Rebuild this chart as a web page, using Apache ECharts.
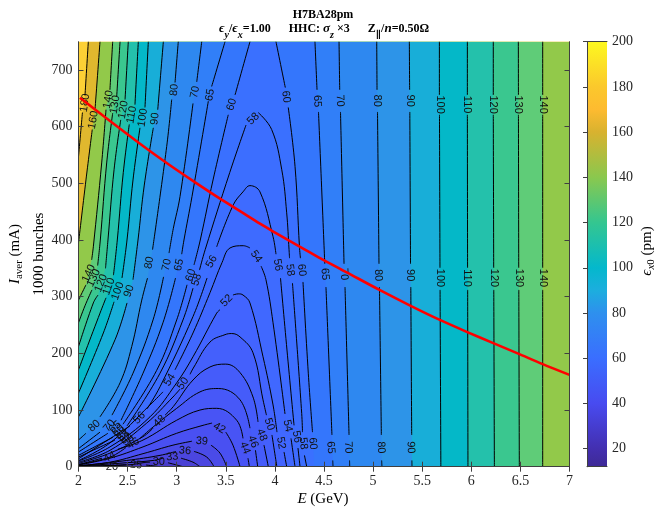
<!DOCTYPE html>
<html><head><meta charset="utf-8">
<style>html,body{margin:0;padding:0;background:#fff}#c{width:660px;height:507px}</style>
<script src="https://cdn.jsdelivr.net/npm/echarts@6/dist/echarts.min.js"></script>
</head><body><div id="c"></div>
<script>
const _ = null;
// contour polylines [E (GeV), I (mA)], _ marks the gap left for a label
const c180=[[2,547],[2.04,625],_,[2.066,655],[2.10,750]];
const c160=[[2,395],[2.076,506],[2.14,595],_,[2.168,630],[2.219,750]];
const c140=[[2,294],[2.076,321],_,[2.134,365],[2.151,388],[2.236,536],[2.28,630],_,[2.32,665],[2.348,750],_,[6.727,750],[6.727,656],_,[6.727,621],[6.727,351],_,[6.727,312],[6.727,0]];
const c130=[[2,254],[2.066,284],[2.137,312],_,[2.195,355],[2.222,400],[2.287,536],[2.348,624],_,[2.389,653],[2.423,750],_,[6.479,750],[6.48,656],_,[6.48,621],[6.483,351],_,[6.484,312],[6.489,0]];
const c120=[[2,212],[2.151,289],[2.199,303],_,[2.275,350],[2.30,400],[2.362,524],[2.43,612],_,[2.474,648],[2.507,750],_,[6.224,750],[6.224,656],_,[6.224,621],[6.228,351],_,[6.229,312],[6.235,0]];
const c110=[[2,171],[2.219,271],[2.28,298],_,[2.356,338],[2.395,400],[2.456,519],[2.517,604],_,[2.575,639],[2.609,750],_,[5.96,750],[5.96,656],_,[5.96,621],[5.962,351],_,[5.963,312],[5.966,0]];
const c100=[[2,130],[2.253,236],[2.362,291],_,[2.443,333],[2.494,400],[2.555,506],[2.626,598],_,[2.677,634],[2.711,750],_,[5.675,750],[5.675,656],_,[5.676,621],[5.681,351],_,[5.682,312],[5.69,0]];
const c90=[[2,88],[2.372,224],[2.494,289],_,[2.555,330],[2.606,400],[2.67,497],[2.762,598],_,[2.807,630],[2.864,750],_,[5.369,750],[5.372,665],_,[5.374,626],[5.381,358],_,[5.384,317],[5.393,56],_,[5.395,11],[5.396,0]];
const c80=[[2,47],[2.076,59],_,[2.219,88],[2.423,148],[2.542,212],[2.644,294],[2.703,333],_,[2.754,383],[2.898,565],[2.949,648],_,[2.983,678],[3.016,750],_,[5.037,750],[5.04,665],_,[5.045,626],[5.06,358],_,[5.065,317],[5.084,56],_,[5.087,11],[5.09,0]];
const c70=[[2,32],[2.219,61],_,[2.341,91],[2.555,165],[2.759,259],[2.866,335],_,[2.922,377],[2.965,420],[3.034,477],[3.166,641],_,[3.204,679],[3.255,750],_,[4.653,750],[4.66,665],_,[4.668,626],[4.704,358],_,[4.714,317],[4.755,56],_,[4.76,11],[4.762,0]];
const c65=[[2,26],[2.30,59],_,[2.433,82],[2.657,165],[2.86,254],[2.988,333],_,[3.051,375],[3.074,400],[3.156,477],[3.322,645],_,[3.356,671],[3.492,750],_,[4.408,750],[4.429,665],_,[4.444,626],[4.508,358],_,[4.52,317],[4.581,56],_,[4.589,11],[4.592,0]];
const c60=[[2,20],[2.351,52],_,[2.453,75],[2.796,170],[3.0,259],[3.105,321],_,[3.176,356],[3.24,400],[3.37,506],[3.525,621],_,[3.594,656],[3.746,750],_,[4.011,750],[4.106,669],_,[4.136,634],[4.205,530],[4.25,388],[4.26,368],_,[4.286,326],[4.34,165],[4.383,61],_,[4.401,0]];
const c58=[[2,17],[2.372,47],_,[2.494,72],[2.83,165],[3.064,259],[3.166,315],_,[3.232,347],[3.29,383],[3.54,519],[3.706,603],_,[3.83,625],[3.967,595],[4.07,524],[4.12,448],[4.144,383],[4.149,368],_,[4.179,324],[4.273,94],[4.281,61],_,[4.301,20],[4.324,0]];
const c56=[[2,14],[2.524,72],_,[2.698,102],[2.83,141],[3.166,265],[3.309,333],_,[3.407,388],[3.576,462],[3.675,485],[3.746,496],[3.848,485],[3.981,406],[4.011,375],_,[4.057,333],[4.123,206],[4.195,73],_,[4.235,33],[4.256,0]];
const c54=[[2,11],[2.321,42],[2.728,109],[2.86,132],_,[2.983,171],[3.166,236],[3.339,307],[3.461,360],[3.543,386],[3.678,390],[3.746,386],_,[3.859,354],[3.909,330],[3.981,254],[4.103,93],_,[4.164,50],[4.205,0]];
const c52=[[2,10],[2.321,35],[2.728,88],[3.0,148],[3.166,194],[3.407,271],[3.441,277],_,[3.573,303],[3.627,305],[3.675,303],[3.746,289],[3.879,194],[3.981,109],[4.021,61],_,[4.093,26],[4.12,0]];
const c50=[[2,8],[2.321,29],[2.695,77],[2.962,123],[3.034,137],_,[3.136,163],[3.169,174],[3.339,220],[3.492,233],[3.56,235],[3.645,229],[3.777,201],[3.879,118],[3.914,91],_,[3.97,56],[4.02,0]];
const c48=[[2,6],[2.321,24],[2.657,53],[2.759,68],_,[2.881,91],[2.965,106],[3.166,153],[3.339,176],[3.499,181],[3.645,166],[3.777,123],[3.828,79],_,[3.889,38],[3.933,0]];
const c46=[[2,4],[2.321,17],[2.484,34],_,[2.626,50],[2.759,70],[3.0,103],[3.237,132],[3.424,138],[3.645,118],[3.746,68],_,[3.802,29],[3.825,0]];
const c44=[[2,3.5],[2.239,15],_,[2.402,31],[2.657,47],[3.0,82],[3.237,100],[3.407,103],[3.611,82],[3.675,50],_,[3.726,15],[3.74,0]];
const c42=[[2,3],[2.321,15],[2.657,35],[3.0,59],[3.268,73],[3.36,77],_,[3.50,61],[3.573,38],[3.645,0]];
const c39=[[2,2],[2.321,8],[2.657,23],[2.962,38],[3.156,45],_,[3.349,38],[3.441,24],[3.509,0]];
const c36=[[2,1.2],[2.491,11],[2.83,20],[2.993,27],_,[3.176,27],[3.306,17],[3.38,0]];
const c33=[[2,1],[2.491,7],[2.759,11],[2.86,15],_,[3.044,15],[3.166,8],[3.237,0]];
const c30=[[2,0.5],[2.524,3.5],[2.657,7],[2.728,8],_,[2.911,7],[3.0,3],[3.064,0]];
const c25=[[2,0.4],[2.321,2],[2.484,3.5],_,[2.687,3],[2.83,0]];
const c20=[[2,0.2],[2.219,1],_,[2.443,0]];

const levels=[180,160,140,130,120,110,100,90,80,70,65,60,58,56,54,52,50,48,46,44,42,39,36,33,30,25,20];
const contours=[c180,c160,c140,c130,c120,c110,c100,c90,c80,c70,c65,c60,c58,c56,c54,c52,c50,c48,c46,c44,c42,c39,c36,c33,c30,c25,c20];
const aboveTopBand='#fdd035';
const bandColors=['#e0b82e','#92c94a','#5fcc78','#3ac78f','#24c1ab','#04b8c8','#18aed8','#2d94e8','#2e88f0','#317ff8','#3476fc','#3a70ff','#3c6eff','#3e6bff','#4068ff','#4264ff','#4460fc','#455cfa','#4758f8','#4854f5','#4950f2','#4a4be8','#4b46e0','#4a41d5','#483bc8','#4535b8','#3e2c9e'];

// [E, I, text, rotation in degrees]
const contourLabels=[
[2.066,642,'180',82],[2.151,612,'160',80],[2.303,648,'140',80],[2.372,639,'130',80],[2.456,630,'120',80],[2.542,621,'110',80],[2.654,616,'100',82],[2.779,614,'90',84],[2.976,665,'80',85],[3.186,661,'70',78],[3.339,656,'65',80],[3.56,639,'60',72],[3.78,614,'58',45],
[4.113,653,'60',-84],[4.432,645,'65',-87],[4.663,646,'70',-88],[5.042,646,'80',-90],[5.372,646,'90',-90],[5.677,639,'100',-90],[5.96,639,'110',-90],[6.224,639,'120',-90],[6.479,639,'130',-90],[6.727,639,'140',-90],
[2.105,341,'140',65],[2.155,333,'130',65],[2.23,324,'120',68],[2.31,318,'110',70],[2.40,310,'100',70],[2.515,310,'90',72],[2.72,360,'80',80],[2.898,356,'70',78],[3.023,356,'65',78],[3.143,338,'60',72],[3.204,330,'58',72],[3.355,362,'56',60],[3.81,371,'54',-55],[3.509,293,'52',45],
[4.03,356,'56',-80],[4.155,347,'58',-82],[4.273,347,'60',-84],[4.51,340,'65',-86],[4.704,340,'70',-88],[5.053,338,'80',-88],[5.376,338,'90',-90],[5.68,333,'100',-90],[5.96,333,'110',-90],[6.228,333,'120',-90],[6.484,333,'130',-90],[6.727,333,'140',-90],
[2.928,153,'54',58],[3.065,147,'50',55],[2.62,86,'56',45],[2.825,80,'48',42],[2.16,72,'80',42],[2.315,72,'70',50],[2.372,70,'65',40],[2.402,64,'60',40],[2.43,59,'58',40],[2.458,54,'54',40],[2.484,50,'52',40],[2.504,47,'50',40],[2.558,41,'46',30],[2.315,17,'44',25],
[3.434,68,'42',-30],[3.255,45,'39',-5],[3.084,28,'36',-5],[2.955,17,'33',5],[2.818,8,'30',0],[2.586,3,'25',-5],[2.34,0,'20',0],
[3.696,33,'44',-70],[3.777,44,'46',-70],[3.866,56,'48',-70],[3.943,75,'50',-72],[4.062,42,'52',-80],[4.13,72,'54',-78],[4.222,53,'56',-80],[4.289,41,'58',-84],[4.385,41,'60',-85],[4.568,34,'65',-86],[4.748,34,'70',-88],[5.08,34,'80',-88],[5.383,34,'90',-88]];

// red threshold curve
const thresholdE=[2.015,2.321,2.626,2.898,3.169,3.441,3.645,3.848,3.984,4.154,4.324,4.493,4.731,5.07,5.393,5.68,5.953,6.224,6.478,6.727,7];
const thresholdI=[651,610,570,536,504,473,451,429,415,398,381.5,365,343,311.5,283,259,238,218,199.5,181,162];

const yTicks=[0,100,200,300,400,500,600,700];
const cbTicks=[20,40,60,80,100,120,140,160,180,200];
const cbMin=12,cbMax=200;
const cmapValues=[12,20,40,60,80,90,100,120,140,160,170,180,200];
const cmapColors=['#3e2a96','#432fb0','#484bf0','#3a6eff','#2e90ee','#1caede','#04b8cc','#34c690','#8ac84e','#d8b22f','#fdbb30','#fbc82c','#fdf820'];

const serif="'Liberation Serif','DejaVu Serif',serif";
const sans="'Liberation Sans',sans-serif";
const axCol='#404040', txtCol='#262626';
const G={left:78.5,top:41.7,width:491,height:425};
const lineAx={lineStyle:{color:axCol,width:1}};
const tickIn={inside:true,length:5,lineStyle:{color:axCol,width:1}};
const lab={color:txtCol,fontFamily:serif,fontSize:14};
const chart=echarts.init(document.getElementById('c'),null,{renderer:'canvas'});

const rich={
 b:{fontFamily:serif,fontWeight:'bold',fontSize:12,color:'#111',lineHeight:16},
 bi:{fontFamily:serif,fontWeight:'bold',fontStyle:'italic',fontSize:13,color:'#111',lineHeight:16},
 sub:{fontFamily:serif,fontWeight:'bold',fontStyle:'italic',fontSize:10,color:'#111',lineHeight:16,padding:[12,0,0,0],verticalAlign:'middle'},
 n:{fontFamily:serif,fontSize:15,color:txtCol,lineHeight:20},
 i:{fontFamily:serif,fontStyle:'italic',fontSize:15,color:txtCol,lineHeight:20},
 s:{fontFamily:serif,fontSize:11,color:txtCol,lineHeight:20,padding:[8,0,0,0],verticalAlign:'middle'},
 si:{fontFamily:serif,fontStyle:'italic',fontSize:11,color:txtCol,lineHeight:20,padding:[8,0,0,0],verticalAlign:'middle'}
};
const T=(x,y,text,rot)=>({type:'text',x,y,rotation:rot||0,z:20,style:{text,rich,align:'center',verticalAlign:'middle'}});

const lineSeries=contours.map((c,i)=>({
 type:'line',name:String(levels[i]),xAxisIndex:0,yAxisIndex:0,z:2,symbol:'none',smooth:0.4,connectNulls:false,silent:true,clip:true,animation:false,
 lineStyle:{color:'#000',width:1},
 data:c.map(p=>p===_?['-','-']:p)
}));

chart.setOption({
 animation:false,
 backgroundColor:'#fff',
 grid:[
  Object.assign({show:true,backgroundColor:aboveTopBand,borderWidth:0},G),
  {left:587,top:41.7,width:20,height:425}
 ],
 xAxis:[
  {gridIndex:0,type:'value',min:2,max:7,interval:0.5,position:'bottom',z:10,splitLine:{show:false},axisLine:lineAx,axisTick:tickIn,axisLabel:Object.assign({margin:8},lab)},
  {gridIndex:0,type:'value',min:2,max:7,interval:0.5,position:'top',z:10,splitLine:{show:false},axisLine:lineAx,axisTick:tickIn,axisLabel:{show:false}},
  {gridIndex:1,type:'value',min:0,max:1,position:'bottom',z:10,splitLine:{show:false},axisLine:lineAx,axisTick:{show:false},axisLabel:{show:false}},
  {gridIndex:1,type:'value',min:0,max:1,position:'top',z:10,splitLine:{show:false},axisLine:lineAx,axisTick:{show:false},axisLabel:{show:false}}
 ],
 yAxis:[
  {gridIndex:0,type:'value',min:0,max:750,position:'left',z:10,splitLine:{show:false},axisLine:lineAx,axisTick:Object.assign({customValues:yTicks},tickIn),axisLabel:Object.assign({customValues:yTicks,margin:6},lab)},
  {gridIndex:0,type:'value',min:0,max:750,position:'right',z:10,splitLine:{show:false},axisLine:lineAx,axisTick:Object.assign({customValues:yTicks},tickIn),axisLabel:{show:false}},
  {gridIndex:1,type:'value',min:cbMin,max:cbMax,position:'right',z:10,splitLine:{show:false},axisLine:lineAx,axisTick:Object.assign({customValues:cbTicks},tickIn,{length:4}),axisLabel:Object.assign({customValues:cbTicks,margin:5},lab)},
  {gridIndex:1,type:'value',min:cbMin,max:cbMax,position:'left',z:10,splitLine:{show:false},axisLine:lineAx,axisTick:{show:false},axisLabel:{show:false}}
 ],
 graphic:[
  T(323,14.5,'{b|H7BA28pm}'),
  T(324,29,'{bi|ϵ}{sub|y}{b|/}{bi|ϵ}{sub|x}{b|=1.00      HHC: }{bi|σ}{sub|z}{b| ×3      Z}{sub|∥}{b|/}{bi|n}{b|=0.50Ω}'),
  T(323,499,'{i|E}{n| (GeV)}'),
  T(15,254,'{i|I}{s|aver}{n| (mA)}',Math.PI/2),
  T(39,254,'{n|1000 bunches}',Math.PI/2),
  T(647,251,'{i|ϵ}{si|x}{s|0}{n| (pm)}',Math.PI/2)
 ],
 series:[
  {type:'custom',xAxisIndex:0,yAxisIndex:0,z:1,silent:true,clip:true,animation:false,
   data:levels.map((l,i)=>[i]),
   renderItem(p,api){
    const i=api.value(0);
    const pts=contours[i].filter(q=>q!==_);
    const last=pts[pts.length-1];
    const closed=pts.concat(last[1]>=750?[[7,750],[7,0],[2,0]]:[[2,0]]);
    return {type:'polygon',shape:{points:closed.map(q=>api.coord(q))},style:{fill:bandColors[i]}};
   }},
  ...lineSeries,
  {type:'custom',xAxisIndex:0,yAxisIndex:0,z:3,silent:true,clip:false,animation:false,
   data:contourLabels.map((r,i)=>[r[0],r[1],i]),
   renderItem(p,api){
    const r=contourLabels[api.value(2)];
    const q=api.coord([r[0],r[1]]);
    return {type:'text',x:q[0],y:q[1],rotation:r[3]*Math.PI/180,
     style:{text:r[2],fontFamily:sans,fontSize:11,fill:'#111',align:'center',verticalAlign:'middle'}};
   }},
  {type:'line',name:'threshold',xAxisIndex:0,yAxisIndex:0,z:4,symbol:'none',smooth:0.3,silent:true,animation:false,
   lineStyle:{color:'#ff0000',width:2.6},
   data:thresholdE.map((e,i)=>[e,thresholdI[i]])},
  {type:'custom',xAxisIndex:2,yAxisIndex:2,z:1,silent:true,animation:false,
   data:[[0,cbMin]],
   renderItem(p,api){
    const a=api.coord([0,cbMax]),b=api.coord([1,cbMin]);
    const stops=cmapValues.map((v,i)=>({offset:(cbMax-v)/(cbMax-cbMin),color:cmapColors[i]})).reverse();
    return {type:'rect',shape:{x:a[0],y:a[1],width:b[0]-a[0],height:b[1]-a[1]},
     style:{fill:new echarts.graphic.LinearGradient(0,0,0,1,stops)}};
   }}
 ]
});
</script></body></html>
